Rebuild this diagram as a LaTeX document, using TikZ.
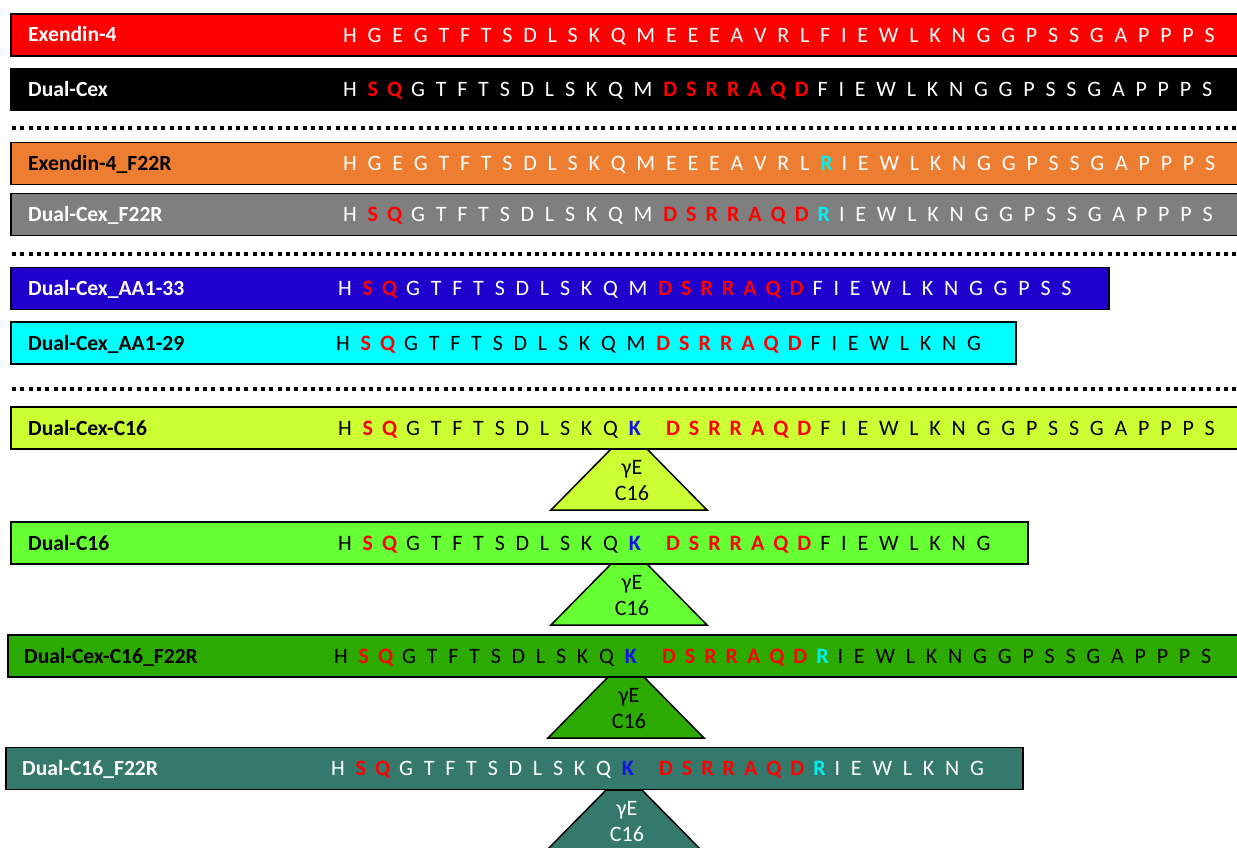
\documentclass[tikz,border=0pt]{standalone}
\usepackage{fontspec}
\setmainfont{Carlito}
\newfontfamily\seqfont{Carlito}[WordSpace=2.17]
\usetikzlibrary{positioning}

\definecolor{exred}{RGB}{255,0,0}
\definecolor{exorange}{RGB}{237,125,49}
\definecolor{dcgray}{RGB}{127,127,127}
\definecolor{aablue}{RGB}{32,0,204}
\definecolor{aacyan}{RGB}{0,255,255}
\definecolor{c16lime}{RGB}{204,255,51}
\definecolor{c16green}{RGB}{102,255,51}
\definecolor{c16dark}{RGB}{44,170,0}
\definecolor{c16teal}{RGB}{52,121,107}
\definecolor{mutred}{RGB}{255,0,0}
\definecolor{subcyan}{RGB}{0,240,240}
\definecolor{lysblue}{RGB}{20,20,230}

\newcommand\mut[1]{\textcolor{mutred}{\bfseries #1}\kern-1.8pt\relax}
\newcommand\rsub[1]{\textcolor{subcyan}{\bfseries #1}\kern-1.8pt\relax}
\newcommand\lys[1]{\textcolor{lysblue}{\bfseries #1}\kern-1.8pt\relax}
\newcommand\gapK{\hspace{27pt}}

\tikzset{
  bar/.style={draw=black, line width=1.5pt, minimum height=42pt, inner sep=0pt, anchor=west},
  tag/.style={font=\fontsize{21.6}{26}\selectfont\bfseries, inner sep=0pt, text height=14pt, text depth=0pt, anchor=west},
  seq/.style={font=\seqfont\fontsize{22}{26}\selectfont, inner sep=0pt, text height=14.2pt, text depth=0pt, anchor=west},
  lipid/.style={draw=black, line width=1.5pt},
  lipidtext/.style={font=\fontsize{22}{26}\selectfont, align=center, inner sep=0pt},
  dots/.style={line width=4pt, dash pattern=on 4pt off 4.3pt}
}

\begin{document}
\begin{tikzpicture}[x=1pt, y=-1pt]
\useasboundingbox (0,0) rectangle (1237,848);

% lipid side chains
\coordinate (k1) at (629,449);
\coordinate (k2) at (629,564);
\coordinate (k3) at (626,677);
\coordinate (k4) at (624,790);
\filldraw[lipid, fill=c16lime] ([xshift=-18pt]k1) -- ([xshift=18pt]k1) -- ([xshift=78pt,yshift=-61pt]k1) -- ([xshift=-78pt,yshift=-61pt]k1) -- cycle;
\filldraw[lipid, fill=c16green] ([xshift=-18pt]k2) -- ([xshift=18pt]k2) -- ([xshift=78pt,yshift=-61pt]k2) -- ([xshift=-78pt,yshift=-61pt]k2) -- cycle;
\filldraw[lipid, fill=c16dark] ([xshift=-18pt]k3) -- ([xshift=18pt]k3) -- ([xshift=78pt,yshift=-61pt]k3) -- ([xshift=-78pt,yshift=-61pt]k3) -- cycle;
\filldraw[lipid, fill=c16teal] ([xshift=-18pt]k4) -- ([xshift=18pt]k4) -- ([xshift=78pt,yshift=-61pt]k4) -- ([xshift=-78pt,yshift=-61pt]k4) -- cycle;
\node[lipidtext] (lip1) at ([xshift=3pt,yshift=-32pt]k1) {γE\\C16};
\node[lipidtext] (lip2) at ([xshift=3pt,yshift=-32pt]k2) {γE\\C16};
\node[lipidtext] (lip3) at ([xshift=3pt,yshift=-32pt]k3) {γE\\C16};
\node[lipidtext, text=white] (lip4) at ([xshift=3pt,yshift=-32pt]k4) {γE\\C16};

% peptide bars
\node[bar, fill=exred, minimum width=1240pt] (ex4) at (10,35) {};
\node[bar, fill=black, minimum width=1240pt] (dcex) at (10,89.5) {};
\node[bar, fill=exorange, minimum width=1240pt] (ex4r) at (10,163.5) {};
\node[bar, fill=dcgray, minimum width=1240pt] (dcexr) at (10,214.5) {};
\node[bar, fill=aablue, minimum width=1098pt] (aa33) at (10,288.5) {};
\node[bar, fill=aacyan, minimum width=1005pt] (aa29) at (10,343) {};
\node[bar, fill=c16lime, minimum width=1240pt] (dcexc) at (10,428) {};
\node[bar, fill=c16green, minimum width=1017pt] (dc) at (10,543) {};
\node[bar, fill=c16dark, minimum width=1240pt] (dcexcr) at (7,656) {};
\node[bar, fill=c16teal, minimum width=1017pt] (dcr) at (5,768.5) {};

% names
\node[tag, text=white, right=18pt of ex4.west] {Exendin-4};
\node[tag, text=white, right=18pt of dcex.west] {Dual-Cex};
\node[tag, right=18pt of ex4r.west] {Exendin-4\_F22R};
\node[tag, text=white, right=18pt of dcexr.west] {Dual-Cex\_F22R};
\node[tag, text=white, right=18pt of aa33.west] {Dual-Cex\_AA1-33};
\node[tag, right=18pt of aa29.west] {Dual-Cex\_AA1-29};
\node[tag, right=18pt of dcexc.west] {Dual-Cex-C16};
\node[tag, right=18pt of dc.west] {Dual-C16};
\node[tag, right=17pt of dcexcr.west] {Dual-Cex-C16\_F22R};
\node[tag, text=white, right=17pt of dcr.west] {Dual-C16\_F22R};

% sequences
\node[seq, text=white] at (343,35) {H G E G T F T S D L S K Q M E E E A V R L F I E W L K N G G P S S G A P P P S};
\node[seq, text=white] at (343,89.5) {H \mut{S} \mut{Q} G T F T S D L S K Q M \mut{D} \mut{S} \mut{R} \mut{R} \mut{A} \mut{Q} \mut{D} F I E W L K N G G P S S G A P P P S};
\node[seq, text=white] at (343,163.5) {H G E G T F T S D L S K Q M E E E A V R L \rsub{R} I E W L K N G G P S S G A P P P S};
\node[seq, text=white] at (343,214.5) {H \mut{S} \mut{Q} G T F T S D L S K Q M \mut{D} \mut{S} \mut{R} \mut{R} \mut{A} \mut{Q} \mut{D} \rsub{R} I E W L K N G G P S S G A P P P S};
\node[seq, text=white] at (338,288.5) {H \mut{S} \mut{Q} G T F T S D L S K Q M \mut{D} \mut{S} \mut{R} \mut{R} \mut{A} \mut{Q} \mut{D} F I E W L K N G G P S S};
\node[seq] at (336,343) {H \mut{S} \mut{Q} G T F T S D L S K Q M \mut{D} \mut{S} \mut{R} \mut{R} \mut{A} \mut{Q} \mut{D} F I E W L K N G};
\node[seq] at (338,428) {H \mut{S} \mut{Q} G T F T S D L S K Q \lys{K}\gapK\mut{D} \mut{S} \mut{R} \mut{R} \mut{A} \mut{Q} \mut{D} F I E W L K N G G P S S G A P P P S};
\node[seq] at (338,543) {H \mut{S} \mut{Q} G T F T S D L S K Q \lys{K}\gapK\mut{D} \mut{S} \mut{R} \mut{R} \mut{A} \mut{Q} \mut{D} F I E W L K N G};
\node[seq] at (334,656) {H \mut{S} \mut{Q} G T F T S D L S K Q \lys{K}\gapK\mut{D} \mut{S} \mut{R} \mut{R} \mut{A} \mut{Q} \mut{D} \rsub{R} I E W L K N G G P S S G A P P P S};
\node[seq, text=white] at (331,768.5) {H \mut{S} \mut{Q} G T F T S D L S K Q \lys{K}\gapK\mut{D} \mut{S} \mut{R} \mut{R} \mut{A} \mut{Q} \mut{D} \rsub{R} I E W L K N G};

% separators
\draw[dots] (12,128) -- (1237,128);
\draw[dots] (12,254) -- (1237,254);
\draw[dots] (12,389) -- (1237,389);
\end{tikzpicture}
\end{document}
